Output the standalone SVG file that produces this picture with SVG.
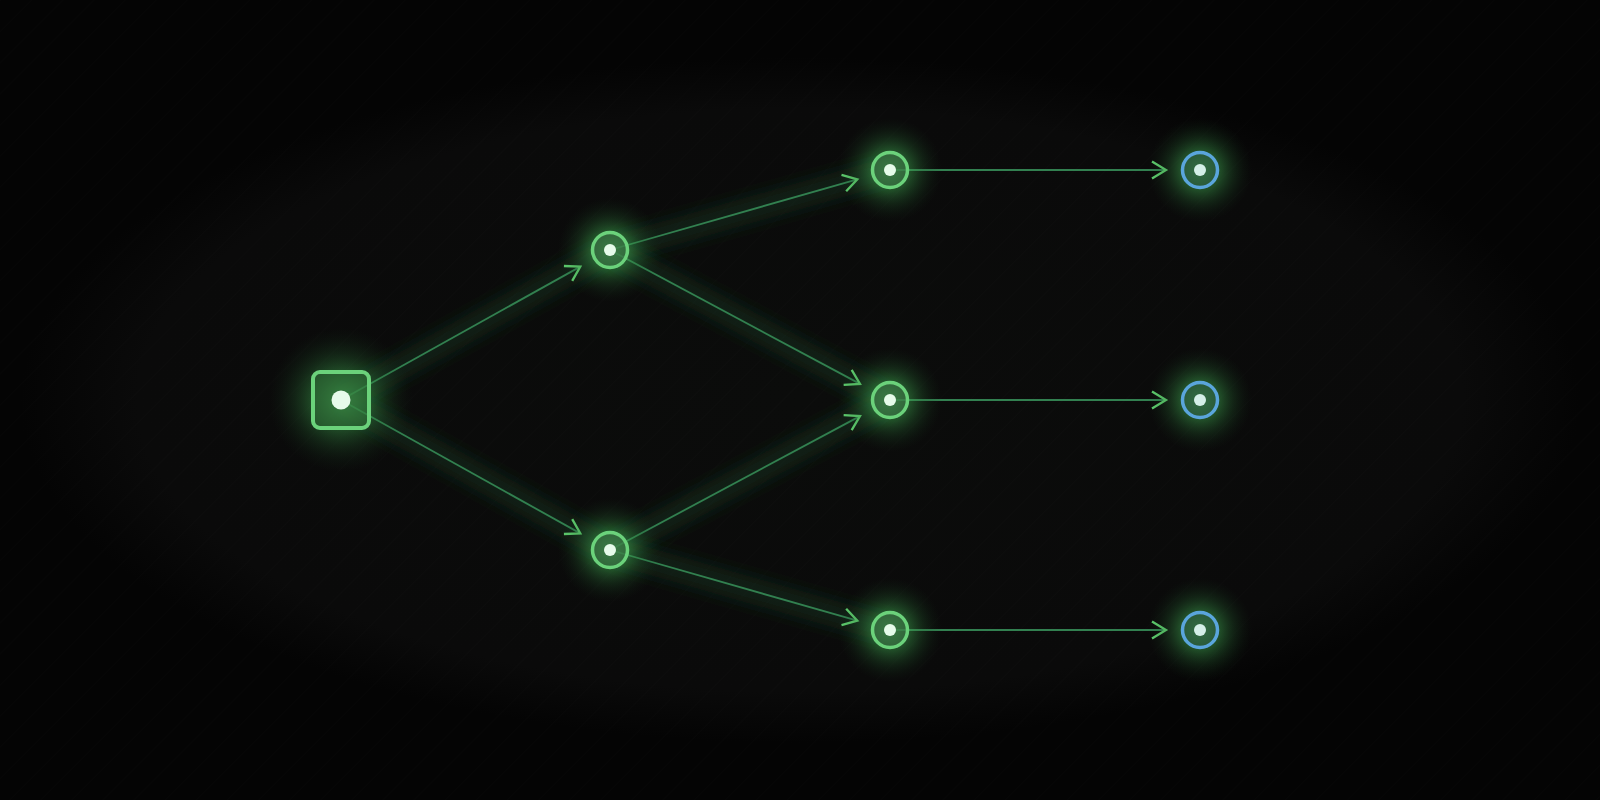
<svg xmlns="http://www.w3.org/2000/svg" width="1600" height="800" viewBox="0 0 1600 800">
<defs>
<style>
.edge{stroke:#328050;stroke-width:1.8;fill:none;marker-end:url(#arr)}
.edgeglow{stroke:#1d4a2a;stroke-width:26;fill:none;stroke-opacity:0.35;filter:url(#blurL)}
.ring{fill:#3a7044;fill-opacity:0.6;stroke:#6bd27b;stroke-width:3.5}
.ringb{fill:#2e5e45;fill-opacity:0.6;stroke:#5aa5dc;stroke-width:3.5}
.dot{fill:#e6fbea}
.dotb{fill:#d4efe8}
</style>
<radialGradient id="bg" cx="800" cy="400" r="780" gradientUnits="userSpaceOnUse" gradientTransform="translate(800 400) scale(1 0.44) translate(-800 -400)">
<stop offset="0" stop-color="#0b0c0b"/>
<stop offset="0.85" stop-color="#0a0a0a"/>
<stop offset="1" stop-color="#040404"/>
</radialGradient>
<radialGradient id="glowG">
<stop offset="0" stop-color="#4fbf5f" stop-opacity="0.7"/>
<stop offset="0.4" stop-color="#3a9a4a" stop-opacity="0.45"/>
<stop offset="0.65" stop-color="#2a6e36" stop-opacity="0.25"/>
<stop offset="0.85" stop-color="#1e5028" stop-opacity="0.1"/>
<stop offset="1" stop-color="#1a4020" stop-opacity="0"/>
</radialGradient>
<pattern id="diag" width="22" height="22" patternUnits="userSpaceOnUse" patternTransform="rotate(45)">
<line x1="0" y1="0" x2="0" y2="22" stroke="#ffffff" stroke-width="1"/>
</pattern>
<filter id="blurL" x="-20%" y="-60%" width="140%" height="220%"><feGaussianBlur stdDeviation="8"/></filter>
<marker id="arr" markerUnits="userSpaceOnUse" markerWidth="34" markerHeight="34" refX="0" refY="0" viewBox="-17 -17 34 34" orient="auto">
<path d="M-14,-8.5 L0,0 L-14,8.5" fill="none" stroke="#5fcd6e" stroke-width="2.3" stroke-linecap="butt"/>
</marker>
</defs>
<rect width="1600" height="800" fill="#030303"/>
<rect width="1600" height="800" fill="url(#bg)"/>
<rect width="1600" height="800" fill="url(#diag)" opacity="0.018"/>

<g id="connectors">
<g id="edge-glows">
<line class="edgeglow" x1="341" y1="400" x2="610" y2="250"/>
<line class="edgeglow" x1="341" y1="400" x2="610" y2="550"/>
<line class="edgeglow" x1="610" y1="250" x2="890" y2="170"/>
<line class="edgeglow" x1="610" y1="250" x2="890" y2="400"/>
<line class="edgeglow" x1="610" y1="550" x2="890" y2="400"/>
<line class="edgeglow" x1="610" y1="550" x2="890" y2="630"/>
<line class="edgeglow" x1="890" y1="170" x2="1200" y2="170"/>
<line class="edgeglow" x1="890" y1="400" x2="1200" y2="400"/>
<line class="edgeglow" x1="890" y1="630" x2="1200" y2="630"/>
</g>
<line class="edge" x1="341" y1="400" x2="580.3" y2="266.6"/>
<line class="edge" x1="341" y1="400" x2="580.3" y2="533.4"/>
<line class="edge" x1="610" y1="250" x2="857.3" y2="179.3"/>
<line class="edge" x1="610" y1="250" x2="860" y2="383.9"/>
<line class="edge" x1="610" y1="550" x2="860" y2="416.1"/>
<line class="edge" x1="610" y1="550" x2="857.3" y2="620.7"/>
<line class="edge" x1="890" y1="170" x2="1166" y2="170"/>
<line class="edge" x1="890" y1="400" x2="1166" y2="400"/>
<line class="edge" x1="890" y1="630" x2="1166" y2="630"/>
</g>

<g id="start">
<circle cx="341" cy="400" r="72" fill="url(#glowG)"/>
<rect x="313" y="372" width="56" height="56" rx="7" fill="#2f7038" fill-opacity="0.5" stroke="#6bd27b" stroke-width="4"/>
<circle class="dot" cx="341" cy="400" r="9.5"/>
</g>
<g id="n1"><circle cx="610" cy="250" r="52" fill="url(#glowG)"/><circle class="ring" cx="610" cy="250" r="17.5"/><circle class="dot" cx="610" cy="250" r="6"/></g>
<g id="n2"><circle cx="610" cy="550" r="52" fill="url(#glowG)"/><circle class="ring" cx="610" cy="550" r="17.5"/><circle class="dot" cx="610" cy="550" r="6"/></g>
<g id="n3"><circle cx="890" cy="170" r="52" fill="url(#glowG)"/><circle class="ring" cx="890" cy="170" r="17.5"/><circle class="dot" cx="890" cy="170" r="6"/></g>
<g id="n4"><circle cx="890" cy="400" r="52" fill="url(#glowG)"/><circle class="ring" cx="890" cy="400" r="17.5"/><circle class="dot" cx="890" cy="400" r="6"/></g>
<g id="n5"><circle cx="890" cy="630" r="52" fill="url(#glowG)"/><circle class="ring" cx="890" cy="630" r="17.5"/><circle class="dot" cx="890" cy="630" r="6"/></g>
<g id="b1"><circle cx="1200" cy="170" r="52" fill="url(#glowG)"/><circle class="ringb" cx="1200" cy="170" r="17.5"/><circle class="dotb" cx="1200" cy="170" r="6"/></g>
<g id="b2"><circle cx="1200" cy="400" r="52" fill="url(#glowG)"/><circle class="ringb" cx="1200" cy="400" r="17.5"/><circle class="dotb" cx="1200" cy="400" r="6"/></g>
<g id="b3"><circle cx="1200" cy="630" r="52" fill="url(#glowG)"/><circle class="ringb" cx="1200" cy="630" r="17.5"/><circle class="dotb" cx="1200" cy="630" r="6"/></g>
</svg>
